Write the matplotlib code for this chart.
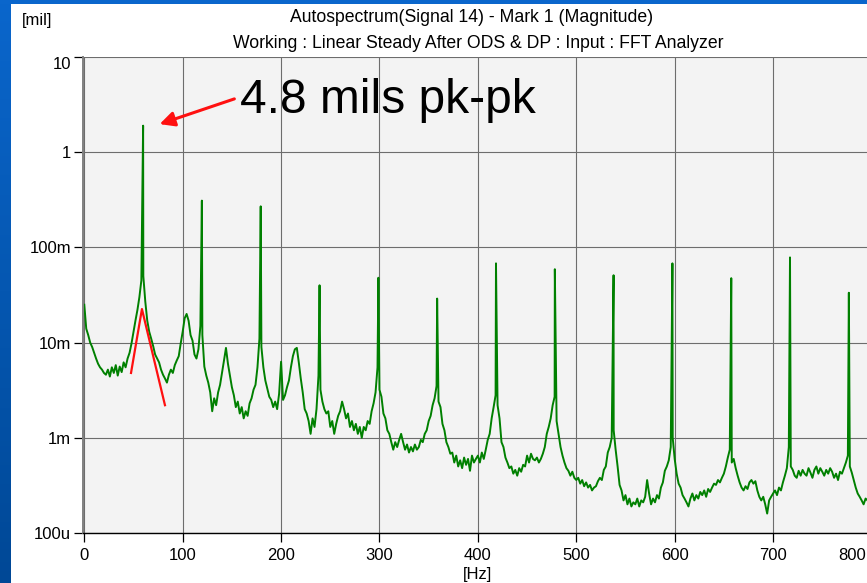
import numpy as np
import matplotlib
matplotlib.use("Agg")
import matplotlib.pyplot as plt
from matplotlib.patches import Rectangle
from matplotlib.colors import LinearSegmentedColormap

plt.rcParams['font.family'] = ['Liberation Sans', 'DejaVu Sans']

# spectrum floor, read every 2 Hz from 0 to 798 Hz  [mil]
baseline_mil = [
    0.025, 0.014, 0.012, 0.010, 0.009, 0.0078, 0.0068, 0.006, 0.0055, 0.0052,
    0.0048, 0.0046, 0.0052, 0.0044, 0.0055, 0.0048, 0.0058, 0.0045, 0.0056, 0.0049,
    0.0062, 0.0055, 0.0068, 0.0078, 0.0098, 0.013, 0.017, 0.022, 0.030, 0.045,
    0.050, 0.027, 0.017, 0.013, 0.011, 0.0092, 0.0075, 0.0068, 0.0062, 0.0052,
    0.0046, 0.0042, 0.0038, 0.0046, 0.0052, 0.0048, 0.0058, 0.0065, 0.0072, 0.0098,
    0.013, 0.018, 0.020, 0.017, 0.012, 0.0105, 0.0075, 0.0068, 0.0085, 0.015,
    0.012, 0.0056, 0.0045, 0.0038, 0.0030, 0.0019, 0.0026, 0.0022, 0.0030, 0.0036,
    0.0048, 0.0065, 0.0088, 0.0060, 0.0045, 0.0034, 0.0028, 0.0021, 0.0024, 0.0018,
    0.0021, 0.0016, 0.0019, 0.0017, 0.0023, 0.0026, 0.0032, 0.0036, 0.0055, 0.011,
    0.009, 0.0055, 0.0040, 0.0033, 0.0027, 0.0025, 0.0021, 0.0024, 0.0020, 0.0029,
    0.0063, 0.0025, 0.0028, 0.0034, 0.0040, 0.0055, 0.0072, 0.0085, 0.0088, 0.0062,
    0.0042, 0.0030, 0.0020, 0.0018, 0.0015, 0.0011, 0.0016, 0.0013, 0.0020, 0.0045,
    0.0032, 0.0024, 0.0020, 0.0018, 0.0019, 0.0013, 0.0015, 0.0011, 0.0014, 0.0017,
    0.0019, 0.0024, 0.0020, 0.0016, 0.0018, 0.0013, 0.0015, 0.0012, 0.0014, 0.0011,
    0.0013, 0.0010, 0.0013, 0.0012, 0.0015, 0.0014, 0.0019, 0.0023, 0.0030, 0.0055,
    0.0032, 0.0027, 0.0018, 0.0016, 0.0012, 0.0011, 0.0009, 0.00075, 0.0009, 0.0008,
    0.00095, 0.0011, 0.0009, 0.00075, 0.00085, 0.0007, 0.0008, 0.00072, 0.00085, 0.00075,
    0.0008, 0.00095, 0.0009, 0.0011, 0.0012, 0.0015, 0.0017, 0.0022, 0.0026, 0.0035,
    0.0024, 0.0021, 0.0014, 0.0012, 0.0009, 0.0008, 0.00068, 0.0007, 0.00055, 0.00065,
    0.0005, 0.00058, 0.00048, 0.00062, 0.00052, 0.0006, 0.00045, 0.00065, 0.00055, 0.0006,
    0.00065, 0.00055, 0.0007, 0.0006, 0.00075, 0.00095, 0.0011, 0.0016, 0.0021, 0.0028,
    0.0022, 0.0016, 0.0009, 0.0008, 0.00062, 0.00055, 0.00048, 0.0005, 0.00042, 0.00046,
    0.0004, 0.00048, 0.00044, 0.00052, 0.0005, 0.00065, 0.00055, 0.00068, 0.0006, 0.00058,
    0.00062, 0.00055, 0.0006, 0.00068, 0.0008, 0.0011, 0.0013, 0.0016, 0.0022, 0.0027,
    0.0015, 0.0011, 0.0008, 0.00065, 0.00055, 0.00048, 0.00045, 0.0004, 0.00044, 0.00038,
    0.00036, 0.00038, 0.00033, 0.00036, 0.00031, 0.00034, 0.0003, 0.00032, 0.00028, 0.0003,
    0.00031, 0.00035, 0.00038, 0.00036, 0.00046, 0.0005, 0.0007, 0.0008, 0.001, 0.0012,
    0.00075, 0.0005, 0.00032, 0.00028, 0.00022, 0.00025, 0.0002, 0.00023, 0.00019, 0.00021,
    0.0002, 0.00023, 0.00019, 0.00022, 0.00021, 0.00024, 0.00036, 0.00026, 0.0002, 0.00023,
    0.00021, 0.00025, 0.00023, 0.0003, 0.00034, 0.00045, 0.0005, 0.00058, 0.0008, 0.001,
    0.0006, 0.00042, 0.00033, 0.0003, 0.00025, 0.00023, 0.00021, 0.00019, 0.00023, 0.00026,
    0.00022, 0.00025, 0.00023, 0.00027, 0.00025, 0.00028, 0.00024, 0.00029, 0.00027, 0.0003,
    0.00033, 0.00032, 0.00036, 0.00034, 0.00038, 0.00042, 0.0005, 0.00062, 0.00075, 0.00055,
    0.0006, 0.00048, 0.0004, 0.00034, 0.0003, 0.00028, 0.00031, 0.00029, 0.00034, 0.00036,
    0.00033, 0.00035, 0.00028, 0.00024, 0.00022, 0.00024, 0.0002, 0.00016, 0.00022, 0.00024,
    0.00026, 0.00028, 0.00025, 0.0003, 0.00028, 0.00034, 0.0004, 0.00048, 0.0008, 0.0005,
    0.00046, 0.0004, 0.00038, 0.00045, 0.0004, 0.00046, 0.00042, 0.0004, 0.00048, 0.00043,
    0.00038, 0.00046, 0.0005, 0.00042, 0.00048, 0.00044, 0.0004, 0.00046, 0.00042, 0.00048,
    0.00044, 0.00038, 0.00042, 0.00036, 0.00044, 0.00042, 0.00048, 0.00055, 0.00065, 0.0005,
    0.00043, 0.00036, 0.0003, 0.00026, 0.00024, 0.00022, 0.0002, 0.00023, 0.00022, 0.0002,
]
baseline_hz = np.arange(0, 800, 2)

# running-speed harmonics
peak_hz = [59.8, 119.5, 179.3, 239.1, 298.9, 358.6, 418.4, 478.2, 537.9, 597.7, 657.5, 717.2, 777.0]
peak_mil = [1.9, 0.31, 0.27, 0.040, 0.048, 0.029, 0.068, 0.059, 0.051, 0.068, 0.0475, 0.0785, 0.0334]

# hand-drawn red marker around the 1X hump
marker_hz = [47.5, 58.6, 82.0]
marker_mil = [0.0048, 0.0225, 0.0022]

ytick_vals = [1e-4, 1e-3, 1e-2, 1e-1, 1, 10]
ytick_labels = ['100u', '1m', '10m', '100m', '1', '10']
xtick_vals = [0, 100, 200, 300, 400, 500, 600, 700]

# merge floor and peaks into one trace
freq = np.concatenate([baseline_hz, peak_hz])
mag = np.concatenate([baseline_mil, peak_mil])
order = np.argsort(freq, kind='stable')
freq, mag = freq[order], mag[order]

W, H = 867, 583
fig = plt.figure(figsize=(W / 100, H / 100), dpi=100)
fig.patch.set_facecolor('white')

# slide frame (blue strips)
bax = fig.add_axes([0, 0, 11 / W, 1])
cmap = LinearSegmentedColormap.from_list('slide', ['#0a66cc', '#004896'])
bax.imshow(np.linspace(0, 1, 200).reshape(-1, 1), cmap=cmap, aspect='auto')
bax.axis('off')
fig.add_artist(Rectangle((0, 1 - 4 / H), 1, 4 / H, transform=fig.transFigure,
                         color='#0a66cc', lw=0))

ax = fig.add_axes([83 / W, 50 / H, (W - 83) / W, 476 / H])
ax.set_facecolor('#f3f3f3')
ax.plot(freq, mag, color='#008000', lw=1.4)
ax.plot(marker_hz, marker_mil, color='#ff1010', lw=1.6)

ax.set_yscale('log')
ax.set_xlim(-1.3, -1.3 + 784 / 0.984)
ax.set_ylim(1e-4, 10)
ax.set_yticks(ytick_vals)
ax.set_yticklabels(ytick_labels)
ax.yaxis.set_minor_locator(matplotlib.ticker.NullLocator())
ax.set_xticks(xtick_vals)
ax.set_xticklabels([str(v) for v in xtick_vals])
ax.grid(True, color='#6d6d6d', lw=0.8)
ax.set_axisbelow(True)

for s in ['top', 'right']:
    ax.spines[s].set_visible(False)
ax.spines['left'].set_color('#808080')
ax.spines['left'].set_linewidth(1.4)
ax.spines['bottom'].set_color('black')
ax.spines['bottom'].set_linewidth(1.0)
ax.tick_params(axis='both', direction='out', length=6.5, width=0.9, color='black',
               labelsize=12, labelcolor='black')
ax.tick_params(axis='y', pad=2)
ax.tick_params(axis='x', pad=4)
# top label is pushed down inside the frame, as in the original
ax.get_yticklabels()[-1].set_verticalalignment('top')

# last x label sits inside the visible window
fig.text(852 / W, 1 - 548 / H, '800', ha='center', va='top', fontsize=12)

fig.text(22 / W, 1 - 20 / H, '[mil]', ha='left', va='center', fontsize=12)
fig.text(472 / W, 1 - 18 / H, 'Autospectrum(Signal 14) - Mark 1 (Magnitude)',
         ha='center', va='center', fontsize=12.7)
fig.text(478 / W, 1 - 44 / H, 'Working : Linear Steady After ODS & DP : Input : FFT Analyzer',
         ha='center', va='center', fontsize=12.7)
fig.text(477 / W, 1 - 575 / H, '[Hz]', ha='center', va='center', fontsize=12)

fig.text(240 / W, 1 - 113 / H, '4.8 mils pk-pk', ha='left', va='baseline', fontsize=34.5)
ax.annotate('', xy=(157 / W, 1 - 125 / H), xytext=(237 / W, 1 - 98 / H),
            xycoords='figure fraction', textcoords='figure fraction',
            arrowprops=dict(arrowstyle='-|>', color='#ff1010', lw=2.2, mutation_scale=22))

fig.savefig('out.png', dpi=100)
